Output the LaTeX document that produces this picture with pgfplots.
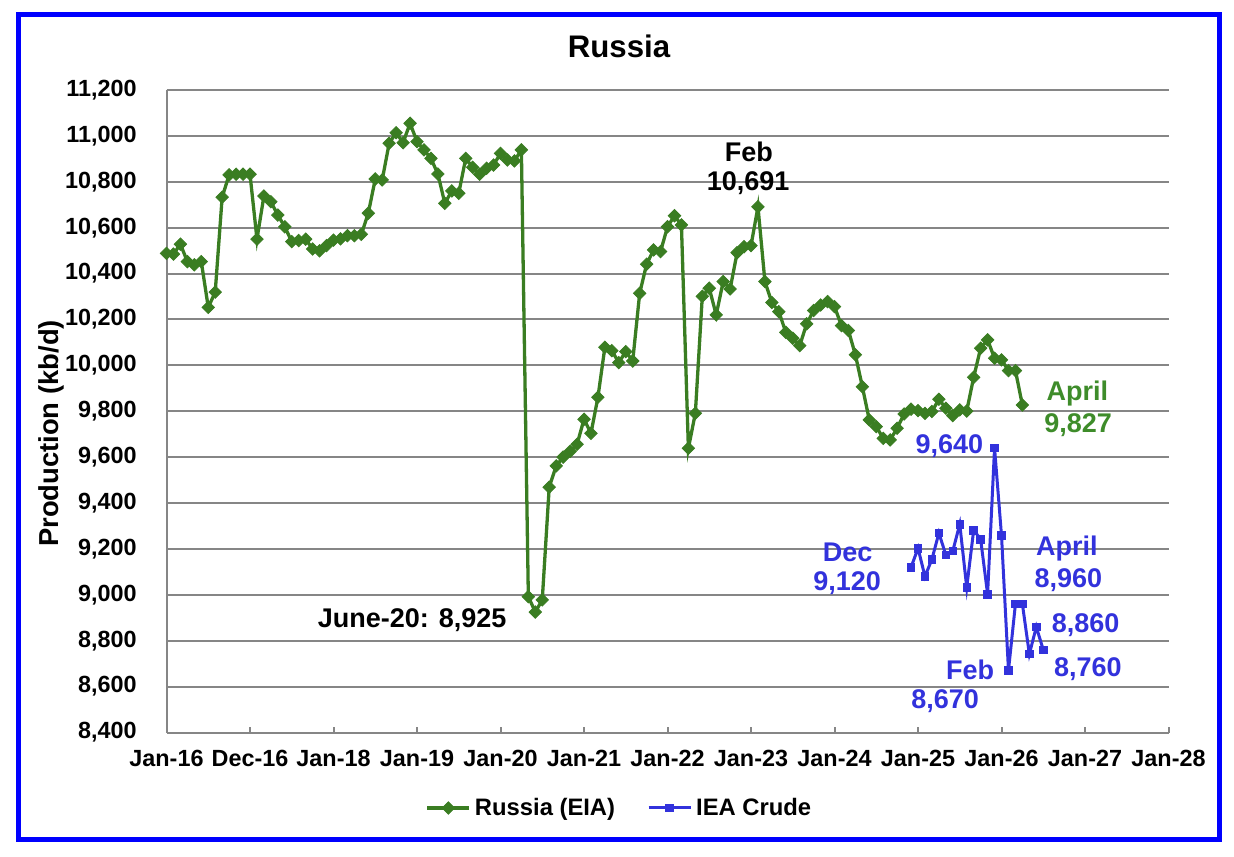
\documentclass[border=0pt]{standalone}
\usepackage{fontspec}
\setmainfont{Liberation Sans}
\usepackage{pgfplots}
\usepackage{pgfplotstable}
\pgfplotsset{compat=1.18}
\definecolor{eia}{RGB}{58,125,34}
\definecolor{eialab}{RGB}{62,140,42}
\definecolor{iea}{RGB}{50,50,220}
\definecolor{grd}{RGB}{134,134,134}
\definecolor{frame}{RGB}{0,0,255}

\pgfplotstableread{
m v
0 10488
1 10485
2 10528
3 10452
4 10438
5 10452
6 10253
7 10319
8 10733
9 10830
10 10833
11 10833
12 10833
13 10550
14 10738
15 10713
16 10655
17 10604
18 10539
19 10544
20 10550
21 10507
22 10499
23 10522
24 10546
25 10551
26 10565
27 10565
28 10571
29 10663
30 10812
31 10808
32 10968
33 11014
34 10970
35 11055
36 10975
37 10939
38 10902
39 10834
40 10706
41 10760
42 10750
43 10902
44 10863
45 10833
46 10859
47 10873
48 10924
49 10895
50 10891
51 10939
52 8992
53 8925
54 8978
55 9469
56 9562
57 9600
58 9625
59 9656
60 9765
61 9704
62 9861
63 10079
64 10064
65 10012
66 10060
67 10019
68 10314
69 10441
70 10503
71 10496
72 10604
73 10652
74 10612
75 9639
76 9791
77 10301
78 10336
79 10220
80 10365
81 10333
82 10491
83 10517
84 10522
85 10691
86 10365
87 10274
88 10234
89 10144
90 10118
91 10086
92 10181
93 10239
94 10263
95 10278
96 10256
97 10173
98 10152
99 10046
100 9907
101 9762
102 9733
103 9682
104 9675
105 9726
106 9788
107 9809
108 9803
109 9791
110 9799
111 9852
112 9813
113 9781
114 9806
115 9801
116 9948
117 10075
118 10111
119 10031
120 10024
121 9977
122 9977
123 9827
}\eiadata

\pgfplotstableread{
m v
107 9120
108 9203
109 9080
110 9155
111 9269
112 9174
113 9191
114 9308
115 9032
116 9282
117 9242
118 9003
119 9640
120 9258
121 8670
122 8960
123 8960
124 8742
125 8860
126 8760
}\ieadata

\begin{document}
\begin{tikzpicture}
\useasboundingbox (0,0) rectangle (617pt,428pt);
\draw[draw=frame, line width=2.5pt] (9.25pt,8.25pt) rectangle (609.75pt,420.75pt);
\node[font=\fontsize{15.6}{18}\selectfont\bfseries] at (309.5pt,405pt) {Russia};
\begin{axis}[
  at={(83.25pt,61.75pt)}, anchor=south west, scale only axis,
  width=501pt, height=321.25pt,
  xmin=0, xmax=144, ymin=8400, ymax=11200,
  clip=false,
  axis x line*=bottom, axis y line*=left,
  axis line style={-, draw=grd, line width=1pt},
  xtick={0,12,24,36,48,60,72,84,96,108,120,132,144},
  xticklabels={Jan-16,Dec-16,Jan-18,Jan-19,Jan-20,Jan-21,Jan-22,Jan-23,Jan-24,Jan-25,Jan-26,Jan-27,Jan-28},
  ytick={8400,8600,8800,9000,9200,9400,9600,9800,10000,10200,10400,10600,10800,11000,11200},
  scaled y ticks=false,
  tick align=inside,
  major tick length=3pt,
  xtick style={draw=grd, line width=1pt},
  ytick style={draw=none},
  ymajorgrids,
  major grid style={draw=grd, line width=1pt},
  ticklabel style={font=\fontsize{11.7}{14}\selectfont\bfseries},
  xticklabel style={anchor=center, inner sep=0pt, yshift=-13pt},
  yticklabel style={anchor=east, inner sep=0pt, xshift=-14.75pt,
    /pgf/number format/assume math mode=true,
    /pgf/number format/fixed,
    /pgf/number format/1000 sep={,}},
  ylabel={Production (kb/d)},
  ylabel style={at={(axis description cs:-0.1153,0.4654)}, anchor=center, rotate=0, font=\fontsize{13.7}{16}\selectfont\bfseries},
  legend columns=2,
  legend style={at={(0.453,-0.1175)}, anchor=center, draw=none, fill=none,
    font=\fontsize{11.9}{14}\selectfont\bfseries,
    /tikz/every even column/.append style={column sep=14pt}},
  legend image code/.code={\draw[mark repeat=2,mark phase=2,#1] plot coordinates {(0pt,0pt) (10.5pt,0pt) (21pt,0pt)};},
]
\addplot[draw=eia, line width=1.65pt, mark=square*, mark size=2.2pt,
  mark options={rotate=45, solid, fill=eia, draw=eia, line width=0.4pt}]
  table[x=m, y=v] {\eiadata};
\addlegendentry{Russia (EIA)}
\addplot[draw=iea, line width=1.5pt, mark=square*, mark size=1.9pt,
  mark options={solid, fill=iea, draw=iea, line width=0.4pt}]
  table[x=m, y=v] {\ieadata};
\addlegendentry{IEA Crude}

\begin{scope}[font=\fontsize{13.5}{16}\selectfont\bfseries]
\node at (axis cs:83.7,10930) {Feb};
\node at (axis cs:83.6,10794) {10,691};
\node at (axis cs:35.3,8889) {June-20: 8,925};
\node[text=eialab] at (axis cs:130.9,9879) {April};
\node[text=eialab] at (axis cs:131.0,9739) {9,827};
\node[text=iea] at (axis cs:112.5,9647) {9,640};
\node[text=iea] at (axis cs:97.9,9185) {Dec};
\node[text=iea] at (axis cs:97.8,9050) {9,120};
\node[text=iea] at (axis cs:129.4,9203) {April};
\node[text=iea] at (axis cs:129.6,9063) {8,960};
\node[text=iea] at (axis cs:132.1,8867) {8,860};
\node[text=iea] at (axis cs:115.5,8675) {Feb};
\node[text=iea] at (axis cs:111.9,8535) {8,670};
\node[text=iea] at (axis cs:132.4,8675) {8,760};
\end{scope}
\end{axis}
\end{tikzpicture}
\end{document}
